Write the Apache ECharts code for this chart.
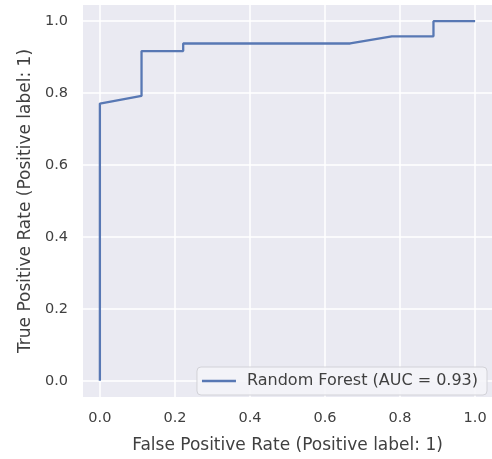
<!DOCTYPE html>
<html>
<head>
<meta charset="utf-8">
<script src="https://cdn.jsdelivr.net/npm/echarts@6/dist/echarts.min.js"></script>
<style>
html, body { margin: 0; padding: 0; background: #ffffff; }
#chart { width: 492px; height: 459px; }
</style>
</head>
<body>
<div id="chart"></div>
<script>
// ROC curve points
const fpr = [0, 0, 0.111, 0.111, 0.222, 0.222, 0.667, 0.778, 0.889, 0.889, 1.0];
const tpr = [0, 0.771, 0.792, 0.917, 0.917, 0.938, 0.938, 0.958, 0.958, 1.0, 1.0];
const tickValues = [0, 0.2, 0.4, 0.6, 0.8, 1.0];
const seriesName = 'Random Forest (AUC = 0.93)';
const xTitle = 'False Positive Rate (Positive label: 1)';
const yTitle = 'True Positive Rate (Positive label: 1)';

const points = fpr.map((x, i) => [x, tpr[i]]);
const font = 'DejaVu Sans';
const textColor = '#404040';

const chart = echarts.init(document.getElementById('chart'));
chart.setOption({
  backgroundColor: '#ffffff',
  animation: false,
  grid: {
    left: 83, right: 0, top: 5, bottom: 57,
    show: true, backgroundColor: '#EAEAF2', borderWidth: 0
  },
  xAxis: {
    type: 'value', min: -0.045, max: 1.045,
    name: xTitle, nameLocation: 'middle', nameGap: 40,
    nameTextStyle: { fontFamily: font, fontSize: 17, color: textColor },
    axisLine: { show: false },
    axisTick: { show: false, customValues: tickValues },
    axisLabel: {
      customValues: tickValues, margin: 14,
      fontFamily: font, fontSize: 14.5, color: textColor,
      formatter: v => v.toFixed(1)
    },
    splitLine: { show: true, lineStyle: { color: '#ffffff', width: 1.5 } }
  },
  yAxis: {
    type: 'value', min: -0.045, max: 1.045,
    name: yTitle, nameLocation: 'middle', nameGap: 48,
    nameTextStyle: { fontFamily: font, fontSize: 17, color: textColor },
    axisLine: { show: false },
    axisTick: { show: false, customValues: tickValues },
    axisLabel: {
      customValues: tickValues, margin: 15,
      fontFamily: font, fontSize: 14.5, color: textColor,
      formatter: v => v.toFixed(1)
    },
    splitLine: { show: true, lineStyle: { color: '#ffffff', width: 1.5 } }
  },
  legend: {
    right: 5, bottom: 64,
    orient: 'vertical',
    itemWidth: 34, itemHeight: 10, itemGap: 0,
    padding: [6, 9, 6, 5],
    backgroundColor: 'rgba(244,244,248,0.9)',
    borderColor: '#d2d2d8', borderWidth: 1, borderRadius: 4,
    textStyle: { fontFamily: font, fontSize: 16, color: textColor, padding: [0, 0, 0, 6] },
    data: [{ name: seriesName, icon: 'path://M0,0 L34,0 L34,2.3 L0,2.3 Z' }]
  },
  series: [{
    name: seriesName,
    type: 'line',
    data: points,
    showSymbol: false,
    symbol: 'none',
    lineStyle: { color: '#5878b4', width: 2.3 },
    itemStyle: { color: '#5878b4' }
  }]
});
</script>
</body>
</html>
